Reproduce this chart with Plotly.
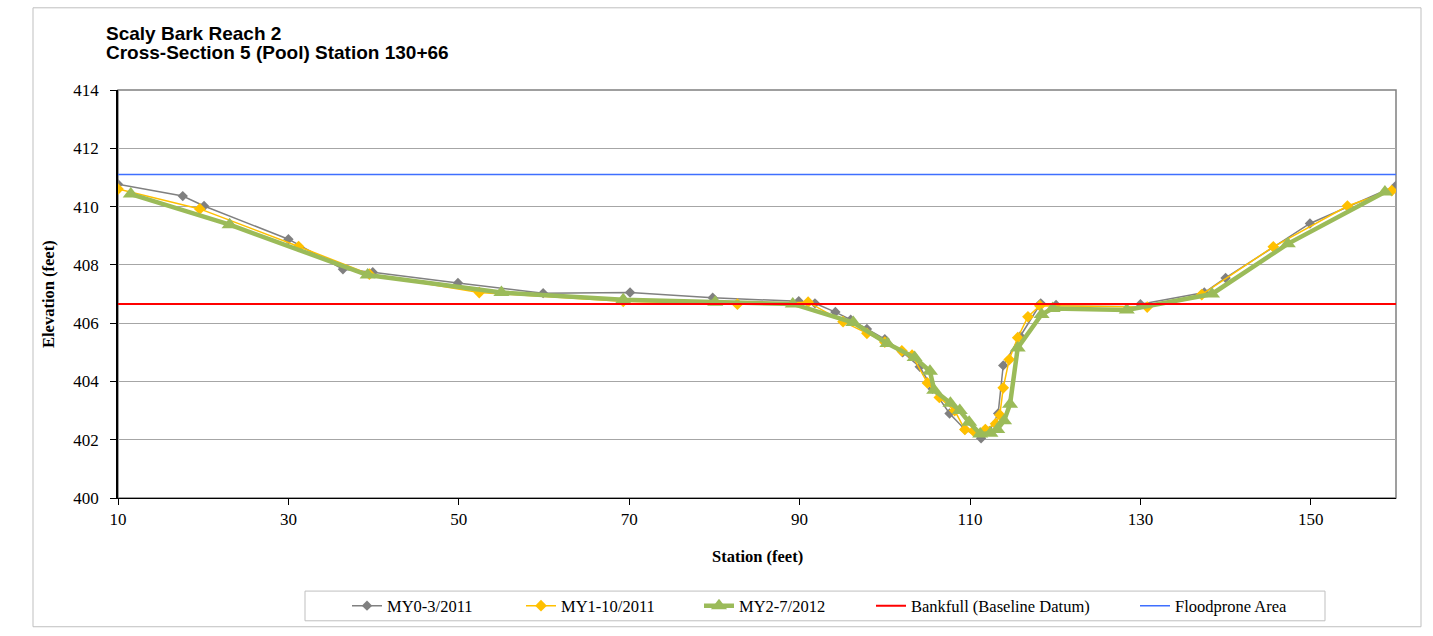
import plotly.graph_objects as go

# Cross-section survey data: station (ft) vs elevation (ft)
my0_station = [10.0, 17.6, 20.1, 30.0, 36.4, 39.9, 49.9, 59.9, 70.1, 79.8, 89.9, 91.8, 94.2, 96.0,
               97.9, 100.0, 102.1, 104.1, 105.6, 107.6, 109.4, 111.3, 112.3, 113.3, 113.9, 115.9,
               118.3, 120.1, 130.0, 137.5, 140.0, 149.9, 160.0]
my0_elev = [410.77, 410.36, 410.02, 408.88, 407.85, 407.75, 407.38, 407.03, 407.05, 406.87, 406.75,
            406.68, 406.38, 406.12, 405.80, 405.45, 405.00, 404.50, 403.75, 402.90, 402.35, 402.05,
            402.30, 402.90, 404.55, 405.55, 406.68, 406.62, 406.65, 407.05, 407.55, 409.42, 410.72]

my1_station = [10.0, 19.6, 31.2, 39.5, 52.4, 69.3, 82.7, 91.0, 95.1, 97.9, 100.0, 102.0, 103.2,
               105.0, 106.4, 108.2, 109.4, 110.4, 111.8, 113.0, 113.5, 113.9, 114.6, 115.6, 116.8,
               118.2, 130.8, 137.2, 145.6, 154.3, 159.5]
my1_elev = [410.60, 409.92, 408.63, 407.68, 407.05, 406.75, 406.65, 406.72, 406.05, 405.65, 405.35,
            405.05, 404.90, 403.95, 403.45, 403.00, 402.35, 402.30, 402.35, 402.55, 402.85, 403.78,
            404.75, 405.50, 406.22, 406.60, 406.55, 406.98, 408.62, 410.02, 410.55]

my2_station = [11.5, 23.1, 39.3, 55.0, 69.3, 80.1, 89.2, 96.3, 100.3, 103.5, 105.3, 105.8, 107.7,
               108.8, 109.9, 111.2, 112.4, 113.2, 114.0, 114.7, 115.6, 118.4, 119.7, 128.4, 138.4,
               147.3, 158.7]
my2_elev = [410.43, 409.38, 407.65, 407.05, 406.80, 406.72, 406.66, 406.02, 405.30, 404.82, 404.35,
            403.70, 403.25, 403.00, 402.60, 402.20, 402.22, 402.35, 402.65, 403.22, 405.15, 406.30,
            406.50, 406.45, 407.00, 408.72, 410.50]

datum_station = [10, 160]
bankfull_elev = [406.66, 406.66]
floodprone_elev = [411.1, 411.1]

x_ticks = [10, 30, 50, 70, 90, 110, 130, 150]
y_ticks = [400, 402, 404, 406, 408, 410, 412, 414]

# Plot-area geometry in pixels (used to convert legend/frame placement to paper coords)
W, H = 1433, 636
L, R, T, B = 118, 1396, 90, 502


def px_x(px):
    return (px - L) / (R - L)


def px_y(py):
    return (B - py) / (B - T)


serif = "Liberation Serif, Times New Roman, serif"
sans = "Liberation Sans, Arial, sans-serif"

fig = go.Figure()

fig.add_trace(go.Scatter(
    x=my0_station, y=my0_elev, mode="lines+markers", name="MY0-3/2011",
    line=dict(color="#808080", width=1.5),
    marker=dict(symbol="diamond", size=8, color="#808080"),
    legend="legend"))
fig.add_trace(go.Scatter(
    x=my1_station, y=my1_elev, mode="lines+markers", name="MY1-10/2011",
    line=dict(color="#FFC000", width=1.5),
    marker=dict(symbol="diamond", size=9, color="#FFC000"),
    legend="legend2"))
fig.add_trace(go.Scatter(
    x=my2_station, y=my2_elev, mode="lines+markers", name="MY2-7/2012",
    line=dict(color="#9BBB59", width=4.5),
    marker=dict(symbol="triangle-up", size=14, color="#9BBB59"),
    legend="legend3"))
fig.add_trace(go.Scatter(
    x=datum_station, y=bankfull_elev, mode="lines", name="Bankfull (Baseline Datum)",
    line=dict(color="#FF0000", width=2), legend="legend4"))
fig.add_trace(go.Scatter(
    x=datum_station, y=floodprone_elev, mode="lines", name="Floodprone Area",
    line=dict(color="#3F6FFF", width=1.5), legend="legend5"))

legend_style = dict(orientation="h", xanchor="left", yanchor="middle",
                    bgcolor="rgba(0,0,0,0)", borderwidth=0,
                    font=dict(family=serif, size=16.5, color="#000000"))
legend_left_px = [347, 521, 699, 871, 1135]
legend_y = px_y(611)
legend_layout = {}
for i, lx in enumerate(legend_left_px):
    key = "legend" if i == 0 else f"legend{i + 1}"
    legend_layout[key] = dict(x=px_x(lx), y=legend_y, **legend_style)

fig.update_layout(
    width=W, height=H,
    margin=dict(l=L, r=W - R, t=T, b=H - B),
    paper_bgcolor="#FFFFFF", plot_bgcolor="#FFFFFF",
    showlegend=True,
    **legend_layout,
    xaxis=dict(
        range=[10, 160], tickvals=x_ticks, ticktext=[str(v) for v in x_ticks],
        showgrid=False, zeroline=False,
        showline=True, linecolor="#000000", linewidth=1,
        ticks="outside", ticklen=6, tickcolor="#000000",
        tickfont=dict(family=serif, size=17, color="#000000")),
    yaxis=dict(
        range=[400, 414], tickvals=y_ticks, ticktext=[str(v) for v in y_ticks],
        showgrid=True, gridcolor="#A6A6A6", gridwidth=1, zeroline=False,
        showline=True, linecolor="#000000", linewidth=1.5,
        ticks="outside", ticklen=6, tickcolor="#000000", ticklabelstandoff=8,
        tickfont=dict(family=serif, size=17, color="#000000")),
    annotations=[
        dict(text="<b>Scaly Bark Reach 2</b>", xref="paper", yref="paper",
             x=px_x(104), y=px_y(33), xanchor="left", yanchor="middle", showarrow=False,
             font=dict(family=sans, size=19, color="#000000")),
        dict(text="<b>Cross-Section 5 (Pool) Station 130+66</b>", xref="paper", yref="paper",
             x=px_x(104), y=px_y(52), xanchor="left", yanchor="middle", showarrow=False,
             font=dict(family=sans, size=19, color="#000000")),
        dict(text="<b>Elevation (feet)</b>", xref="paper", yref="paper",
             x=px_x(48), y=0.5, xanchor="center", yanchor="middle", textangle=-90,
             showarrow=False, font=dict(family=serif, size=16.5, color="#000000")),
        dict(text="<b>Station (feet)</b>", xref="paper", yref="paper",
             x=0.5, y=px_y(561), xanchor="center", yanchor="middle",
             showarrow=False, font=dict(family=serif, size=16.5, color="#000000")),
    ],
    shapes=[
        # plot-area frame (top and right edges)
        dict(type="rect", xref="paper", yref="paper", x0=0, x1=1, y0=0, y1=1,
             line=dict(color="#808080", width=1.5), layer="below"),
        # legend box
        dict(type="rect", xref="paper", yref="paper",
             x0=px_x(305), x1=px_x(1325), y0=px_y(596), y1=px_y(626),
             line=dict(color="#BFBFBF", width=1)),
        # outer chart frame
        dict(type="rect", xref="paper", yref="paper",
             x0=px_x(33), x1=px_x(1421), y0=px_y(7), y1=px_y(632),
             line=dict(color="#BFBFBF", width=1)),
    ],
)

fig.write_html("out.html")
